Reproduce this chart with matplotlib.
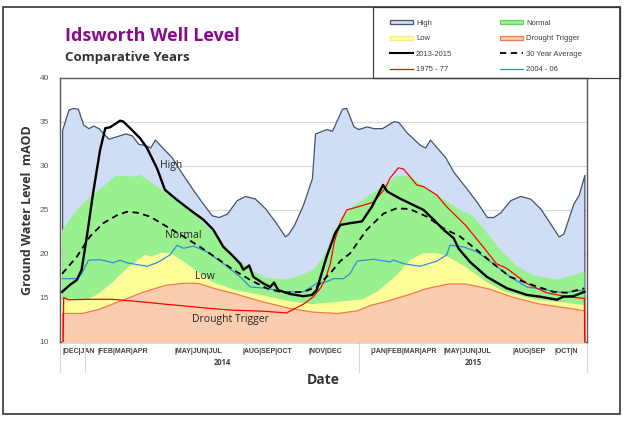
import matplotlib
matplotlib.use('Agg')
import matplotlib.pyplot as plt
import matplotlib.patches as mpatches
import matplotlib.transforms as mtransforms
from matplotlib.lines import Line2D

# x values are weeks counted from the start of Dec 2013
high_wk = [0, 1.2, 2.1, 3.0, 4.0, 5.0, 5.9, 6.9, 8.8, 10.4, 12.0, 13.2, 14.5, 15.7, 16.7, 17.6, 19.5, 20.8, 22.7, 24.6,
           26.5, 28.4, 29.7, 31.3, 33.1, 34.7, 36.6, 38.5, 40.4, 42.3, 42.9, 44.0, 45.7, 47.4, 48.0, 49.3, 50.2, 51.2, 53.1, 53.9,
           55.3, 56.2, 57.8, 59.1, 60.7, 62.9, 63.8, 65.4, 67.9, 68.9, 69.8, 72.7, 74.3, 76.8, 78.7, 80.6, 81.8, 83.1, 85.0, 86.9,
           88.8, 90.7, 92.6, 94.2, 95.1, 97.0, 98.0, 99.1]
high_lvl = [34.1, 36.4, 36.6, 36.5, 34.7, 34.3, 34.6, 34.3, 33.1, 33.4, 33.7, 33.5, 32.5, 32.4, 32.1, 33.0, 31.8, 31.0, 29.2, 27.5,
            25.9, 24.4, 24.2, 24.6, 26.1, 26.6, 26.3, 25.2, 23.7, 22.0, 22.3, 23.3, 25.6, 28.6, 33.7, 34.0, 34.2, 34.0, 36.5, 36.6,
            34.5, 34.2, 34.5, 34.3, 34.3, 35.1, 35.0, 33.8, 32.4, 32.1, 33.0, 31.0, 29.3, 27.4, 25.9, 24.2, 24.2, 24.7, 26.1, 26.6,
            26.3, 25.2, 23.5, 22.0, 22.3, 25.7, 26.7, 29.0]

normal_wk = [0, 2.8, 5.3, 8.5, 10.1, 13.5, 14.8, 16.7, 19.9, 23.0, 26.2, 29.4, 32.5, 35.7, 38.8, 42.0, 44.5, 47.7, 49.6, 51.5,
             53.4, 57.8, 61.6, 63.5, 66.0, 67.9, 71.7, 75.5, 78.0, 80.6, 83.1, 86.3, 89.4, 93.9, 97.0, 99.1]
normal_lvl = [22.7, 25.0, 26.5, 28.0, 28.9, 28.8, 29.0, 28.2, 26.9, 25.8, 23.9, 22.0, 19.9, 18.2, 17.3, 17.1, 17.4, 18.2, 19.7, 22.4,
              24.5, 26.5, 28.0, 28.9, 28.9, 28.0, 26.5, 25.0, 24.3, 22.4, 20.5, 18.6, 17.6, 17.1, 17.6, 18.0]

low_wk = [0, 5.0, 6.9, 9.4, 12.0, 13.9, 15.7, 17.0, 18.9, 20.5, 22.7, 25.2, 28.4, 32.8, 38.1, 43.3, 47.6, 51.0, 57.1, 60.2,
          63.5, 66.0, 68.5, 71.2, 73.2, 76.5, 80.8, 84.0, 90.3, 99.1]
low_lvl = [14.8, 14.85, 15.5, 16.7, 18.2, 19.1, 19.9, 19.7, 20.15, 20.1, 19.3, 18.2, 16.85, 15.9, 15.3, 14.6, 14.3, 14.5, 14.85, 15.9,
           17.6, 19.3, 20.1, 20.1, 19.7, 18.55, 16.7, 15.7, 14.8, 14.2]

drought_wk = [0, 3.8, 6.8, 11.4, 15.2, 19.5, 23.3, 25.8, 29.0, 32.3, 38.1, 43.3, 47.6, 52.2, 56.0, 58.4, 62.2, 66.0, 68.9, 73.2,
              76.5, 80.8, 85.4, 90.3, 99.1]
drought_lvl = [13.3, 13.3, 13.75, 14.8, 15.7, 16.5, 16.75, 16.7, 16.1, 15.6, 14.6, 13.85, 13.45, 13.3, 13.6, 14.2, 14.8, 15.5, 16.1, 16.65,
               16.65, 16.1, 15.15, 14.4, 13.6]

yr1315_wk = [0, 1.5, 2.8, 3.7, 4.7, 5.9, 7.2, 8.2, 9.1, 11.0, 11.6, 12.9, 14.8, 16.1, 18.0, 19.5, 21.8, 24.3, 26.8, 28.7,
             30.6, 32.2, 33.8, 34.4, 35.5, 36.3, 38.2, 39.5, 40.2, 41.0, 43.3, 45.8, 47.4, 48.3, 50.2, 51.8, 52.8, 54.6, 56.9, 58.8,
             60.9, 61.7, 64.1, 66.7, 68.6, 70.5, 72.4, 74.3, 75.2, 77.4, 80.6, 84.4, 88.2, 90.7, 93.9, 95.1, 97.0, 99.1]
yr1315_lvl = [15.7, 16.5, 17.05, 18.2, 22.0, 27.0, 31.8, 34.3, 34.4, 35.15, 35.05, 34.3, 33.15, 32.05, 29.75, 27.3, 26.15, 25.0, 23.9, 22.75,
              20.8, 19.9, 18.9, 18.2, 18.7, 17.4, 16.65, 16.25, 16.75, 15.9, 15.45, 15.2, 15.35, 15.9, 19.7, 22.35, 23.3, 23.5, 23.7, 25.4,
              27.85, 27.1, 26.3, 25.55, 25.0, 23.9, 22.75, 21.8, 20.65, 19.1, 17.4, 16.1, 15.35, 15.15, 14.8, 15.15, 15.2, 15.7]

avg_wk = [0, 2.8, 5.3, 7.8, 10.4, 12.3, 14.2, 16.7, 19.9, 23.0, 26.2, 29.4, 32.5, 35.7, 38.8, 42.0, 45.8, 48.3, 51.0, 52.8,
          54.6, 57.8, 61.0, 63.5, 66.0, 69.2, 72.4, 75.5, 78.7, 81.8, 85.0, 89.4, 93.2, 95.8, 99.1]
avg_lvl = [17.75, 19.7, 22.0, 23.5, 24.4, 24.8, 24.7, 24.25, 23.1, 22.0, 20.8, 19.5, 18.2, 17.05, 16.1, 15.6, 15.7, 16.25, 17.9, 19.2,
           20.05, 22.75, 24.6, 25.2, 25.1, 24.25, 22.9, 22.0, 20.45, 18.9, 17.4, 16.45, 15.7, 15.6, 16.1]

yr0406_wk = [0, 2.8, 3.7, 5.0, 7.2, 9.7, 11.0, 12.3, 14.2, 16.1, 18.0, 20.5, 21.8, 23.0, 24.9, 27.5, 30.6, 33.8, 35.7, 38.8,
             42.0, 45.8, 48.3, 50.2, 51.5, 53.4, 54.6, 56.0, 59.1, 62.2, 62.9, 64.8, 67.9, 71.1, 73.0, 73.6, 76.2, 78.7, 81.8, 85.0,
             88.2, 92.0, 95.1, 99.1]
yr0406_lvl = [17.2, 17.2, 17.75, 19.3, 19.35, 19.0, 19.3, 19.0, 18.8, 18.6, 19.0, 19.9, 21.0, 20.65, 20.9, 20.25, 18.9, 17.4, 16.25, 16.1,
              15.7, 15.7, 16.65, 16.85, 17.2, 17.2, 17.75, 19.2, 19.4, 19.1, 19.3, 18.9, 18.6, 19.2, 19.9, 21.0, 20.8, 20.25, 18.9, 17.4,
              16.25, 15.9, 15.6, 15.9]

# 1975-77 series has empty (zero) cells at both ends
yr7577_wk = [0, 0.3, 1.2, 5.0, 9.4, 14.5, 19.5, 24.0, 28.4, 32.8, 38.2, 42.6, 44.5, 45.8, 47.7, 49.0, 49.9, 50.9, 51.7, 52.8,
             54.0, 57.2, 59.1, 61.3, 62.2, 63.8, 64.8, 67.3, 68.6, 71.1, 73.0, 76.5, 79.9, 82.4, 84.4, 88.2, 91.9, 95.8, 99.1, 99.3]
yr7577_lvl = [0, 15.05, 14.8, 14.85, 14.85, 14.6, 14.3, 14.05, 13.8, 13.6, 13.5, 13.3, 13.9, 14.3, 15.15, 16.1, 17.05, 18.9, 21.5, 23.6,
              25.0, 25.55, 25.9, 27.45, 28.6, 29.8, 29.65, 27.85, 27.65, 26.7, 25.35, 23.3, 20.8, 18.9, 18.35, 16.65, 15.6, 15.15, 14.95, 0]

# month label groups as Excel squeezed them onto the category axis
month_wk = [0, 6.8, 21.4, 34.3, 46.7, 58.6, 72.3, 85.4, 93.5]
month_txt = ['|DEC|JAN', '|FEB|MAR|APR', '|MAY|JUN|JUL', '|AUG|SEP|OCT', '|NOV|DEC',
             '|JAN|FEB|MAR|APR', '|MAY|JUN|JUL', '|AUG|SEP', '|OCT|N']
year_txt = ['2014', '2015']
year_bounds = [4.4, 56.4, 99.6]

W, H = 626, 421


def fx(px):
    return px / W


def fy(py):
    return 1 - py / H


fig = plt.figure(figsize=(W / 100, H / 100), dpi=100)
ax = fig.add_axes([fx(60), fy(342), fx(587) - fx(60), fy(78) - fy(342)])

base = 9.0
ax.fill_between(high_wk, base, high_lvl, facecolor='#d0def5', edgecolor='#44546a', lw=0.9, zorder=1)
ax.fill_between(normal_wk, base, normal_lvl, facecolor='#98f08e', edgecolor='none', zorder=2)
ax.fill_between(low_wk, base, low_lvl, facecolor='#ffff99', edgecolor='none', zorder=3)
ax.fill_between(drought_wk, base, drought_lvl, facecolor='#f9cdae', edgecolor='#f8784e', lw=0.9, zorder=4)

ax.plot(yr0406_wk, yr0406_lvl, color='#2f8fd8', lw=0.9, zorder=5)
ax.plot(yr7577_wk, yr7577_lvl, color='#ff0000', lw=0.9, zorder=6)
ax.plot(avg_wk, avg_lvl, color='black', lw=1.3, dashes=(3.5, 2.5), zorder=7)
ax.plot(yr1315_wk, yr1315_lvl, color='black', lw=1.7, zorder=8)

ax.set_xlim(-0.4, 99.6)
ax.set_ylim(10, 40)
ax.set_yticks(range(10, 41, 5))
ax.yaxis.grid(True, color='#d9d9d9', lw=0.8, zorder=0)
ax.set_axisbelow(True)
for s in ax.spines.values():
    s.set_color('#595959')
    s.set_linewidth(1.0)
ax.tick_params(axis='y', length=0, pad=8, labelsize=6, labelcolor='#595959')
for lab in ax.get_yticklabels():
    lab.set_fontfamily('Liberation Sans')

ax.set_xticks(month_wk)
ax.set_xticklabels(month_txt, ha='left', fontsize=5.0, fontweight='bold', color='#404040',
                   fontfamily=['Liberation Sans Narrow', 'Liberation Sans'])
ax.tick_params(axis='x', length=0, pad=4)

# category group separators below the axis
trans = mtransforms.blended_transform_factory(ax.transData, ax.transAxes)
for b in [-0.4] + year_bounds:
    ax.plot([b, b], [0, -0.115], transform=trans, color='#d9d9d9', lw=0.8, clip_on=False)
for i, t in enumerate(year_txt):
    ax.text((year_bounds[i] + year_bounds[i + 1]) / 2, -0.078, t, transform=trans, ha='center', va='center',
            fontsize=5.5, fontweight='bold', color='#404040', fontfamily='Open Sans')

# band labels
band_font = dict(fontsize=7.5, color='#262626', fontfamily='Open Sans', ha='center', va='center', zorder=9)
ax.text(20.7, 30.1, 'High', **band_font)
ax.text(23.0, 22.1, 'Normal', **band_font)
ax.text(27.1, 17.4, 'Low', **band_font)
ax.text(31.9, 12.6, 'Drought Trigger', **band_font)

ax.set_ylabel('Ground Water Level  mAOD', fontsize=9, fontweight='bold', color='#333333',
              fontfamily='Open Sans', labelpad=4)
fig.text(fx(323), fy(380), 'Date', fontsize=10, fontweight='bold', color='#333333',
         fontfamily='Open Sans', ha='center', va='center')

fig.text(fx(65), fy(36), 'Idsworth Well Level', fontsize=13, fontweight='bold', color='#8b0a8b',
         fontfamily='Open Sans', ha='left', va='center')
fig.text(fx(65), fy(58), 'Comparative Years', fontsize=9.5, fontweight='bold', color='#333333',
         fontfamily='Open Sans', ha='left', va='center')

handles = [
    mpatches.Patch(facecolor='#d0def5', edgecolor='#44546a', lw=0.9),
    mpatches.Patch(facecolor='#ffff99', edgecolor='#f5f07a', lw=0.9),
    Line2D([], [], color='black', lw=1.5),
    Line2D([], [], color='#ff0000', lw=0.9),
    mpatches.Patch(facecolor='#98f08e', edgecolor='#6ad35e', lw=0.9),
    mpatches.Patch(facecolor='#f9cdae', edgecolor='#f8784e', lw=0.9),
    Line2D([], [], color='black', lw=1.3, dashes=(3.5, 2.5)),
    Line2D([], [], color='#2f8fd8', lw=0.9),
]
labels = ['High', 'Low', '2013-2015', '1975 - 77', 'Normal', 'Drought Trigger', '30 Year Average', '2004 - 06']
leg = fig.legend(handles, labels, ncol=2, loc='upper left',
                 bbox_to_anchor=(fx(390), fy(20)), frameon=False, borderaxespad=0, borderpad=0,
                 prop={'family': 'Liberation Sans', 'size': 5.5},
                 handlelength=3.0, handleheight=0.5, handletextpad=0.4,
                 labelspacing=1.1, columnspacing=6.3)
for t in leg.get_texts():
    t.set_color('#404040')

# legend box and outer chart border
fig.patches.append(mpatches.Rectangle((fx(373), fy(78)), fx(620) - fx(373), fy(7) - fy(78),
                                      transform=fig.transFigure, fill=False,
                                      edgecolor='#404040', lw=0.9))
fig.patches.append(mpatches.Rectangle((fx(3), fy(414)), fx(620) - fx(3), fy(7) - fy(414),
                                      transform=fig.transFigure, fill=False,
                                      edgecolor='#333333', lw=1.2))

fig.savefig('out.png', dpi=100)
